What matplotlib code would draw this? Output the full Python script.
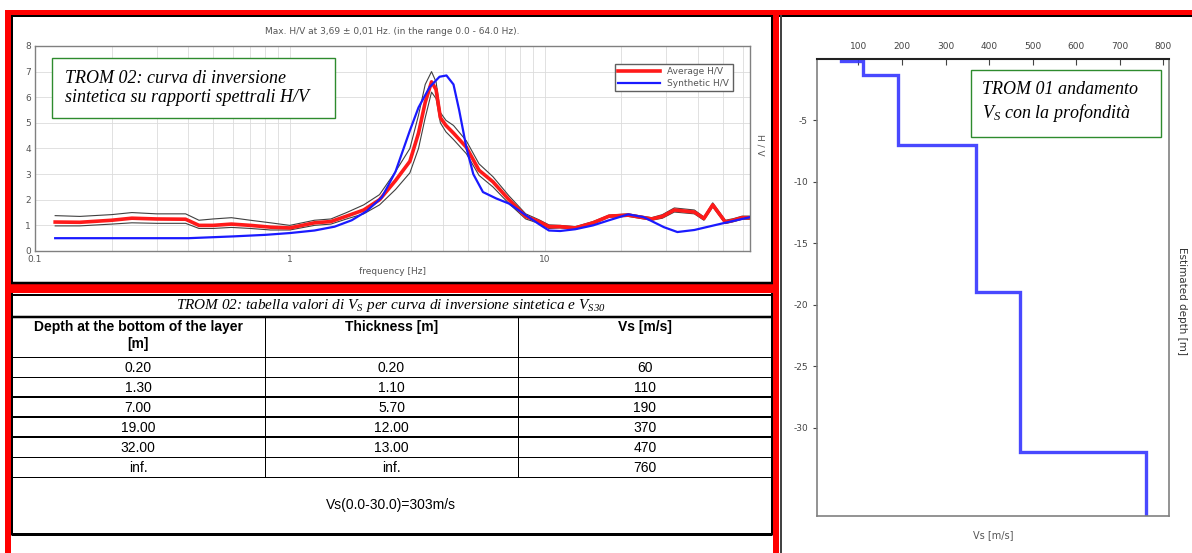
import numpy as np
import matplotlib.pyplot as plt
from matplotlib.patches import Rectangle

plt.rcParams['mathtext.fontset'] = 'custom'
plt.rcParams['mathtext.it'] = 'Liberation Serif:italic'
plt.rcParams['mathtext.rm'] = 'Liberation Serif:italic'
plt.rcParams['axes.unicode_minus'] = False

# --- H/V curves ---
freq = [0.12, 0.15, 0.2, 0.24, 0.3, 0.39, 0.44, 0.5, 0.59, 0.7, 0.84, 1.0, 1.25, 1.45,
        1.67, 1.95, 2.25, 2.6, 2.96, 3.2, 3.4, 3.6, 3.75, 3.9, 4.1, 4.39, 4.93, 5.53,
        6.27, 7.25, 8.43, 9.5, 10.4, 11.5, 13.2, 15.5, 17.9, 21.3, 26.3, 29.0, 32.3,
        38.7, 42.2, 45.7, 51.2, 55.0, 59.6, 64.0]
hv_avg = [1.13, 1.12, 1.2, 1.28, 1.25, 1.24, 1.0, 1.0, 1.05, 1.0, 0.93, 0.9, 1.1, 1.15,
          1.36, 1.6, 2.0, 2.75, 3.5, 4.6, 5.8, 6.6, 6.3, 5.2, 4.9, 4.6, 4.05, 3.15,
          2.7, 2.0, 1.35, 1.15, 0.95, 0.95, 0.9, 1.1, 1.36, 1.4, 1.25, 1.35, 1.6,
          1.52, 1.27, 1.8, 1.13, 1.2, 1.3, 1.3]
hv_up = [1.38, 1.35, 1.42, 1.5, 1.45, 1.45, 1.2, 1.25, 1.3, 1.2, 1.1, 1.0, 1.2, 1.25,
         1.5, 1.8, 2.2, 3.1, 4.0, 5.3, 6.5, 7.0, 6.6, 5.4, 5.1, 4.9, 4.3, 3.4,
         2.9, 2.15, 1.45, 1.22, 1.02, 1.0, 0.95, 1.15, 1.4, 1.45, 1.3, 1.42, 1.68,
         1.6, 1.33, 1.88, 1.2, 1.26, 1.36, 1.36]
hv_low = [0.98, 0.98, 1.05, 1.1, 1.08, 1.08, 0.88, 0.88, 0.92, 0.88, 0.82, 0.82, 1.0, 1.05,
          1.25, 1.45, 1.8, 2.4, 3.05, 4.0, 5.2, 6.2, 5.95, 5.0, 4.65, 4.35, 3.8, 2.95,
          2.5, 1.85, 1.25, 1.08, 0.88, 0.9, 0.85, 1.05, 1.32, 1.35, 1.2, 1.28, 1.52,
          1.45, 1.2, 1.72, 1.07, 1.14, 1.24, 1.24]
freq_syn = [0.12, 0.4, 0.6, 0.8, 1.0, 1.25, 1.5, 1.75, 2.0, 2.3, 2.6, 2.96, 3.2, 3.54,
            3.87, 4.12, 4.39, 4.62, 4.93, 5.25, 5.73, 6.46, 7.25, 8.43, 9.5, 10.4, 11.5,
            13.2, 15.5, 17.9, 21.3, 24.5, 29.4, 33.2, 38.7, 50.0, 64.0]
hv_syn = [0.5, 0.5, 0.57, 0.63, 0.7, 0.8, 0.95, 1.2, 1.55, 2.1, 3.1, 4.7, 5.6, 6.4,
          6.8, 6.85, 6.5, 5.5, 4.05, 3.0, 2.3, 2.05, 1.85, 1.4, 1.05, 0.8, 0.78,
          0.85, 1.0, 1.2, 1.43, 1.32, 0.93, 0.74, 0.82, 1.08, 1.32]

# --- layer table / Vs profile ---
layer_bottom = [0.20, 1.30, 7.00, 19.00, 32.00, np.inf]
thickness = [0.20, 1.10, 5.70, 12.00, 13.00, np.inf]
vs = [60, 110, 190, 370, 470, 760]
vs30_text = "Vs(0.0-30.0)=303m/s"
header = ["Depth at the bottom of the layer\n[m]", "Thickness [m]", "Vs [m/s]"]

W, H = 1192, 553
fig = plt.figure(figsize=(W / 100, H / 100), dpi=100, facecolor='white')


def px_axes(x0, y0, x1, y1):
    return fig.add_axes([x0 / W, 1 - y1 / H, (x1 - x0) / W, (y1 - y0) / H])


# background overlay in pixel coordinates
bg = fig.add_axes([0, 0, 1, 1])
bg.set_xlim(0, W)
bg.set_ylim(H, 0)
bg.axis('off')


def fill(x0, y0, x1, y1, color):
    bg.add_patch(Rectangle((x0, y0), x1 - x0, y1 - y0, facecolor=color, edgecolor='none'))


def hline(y, x0, x1, lw=1, color='black'):
    bg.plot([x0, x1], [y, y], color=color, lw=lw * 0.72, solid_capstyle='butt')


def vline(x, y0, y1, lw=1, color='black'):
    bg.plot([x, x], [y0, y1], color=color, lw=lw * 0.72, solid_capstyle='butt')


# red frames
fill(5, 10, W, 14.5, 'red')
fill(5, 10, 10.5, H, 'red')
fill(773, 10, 779, H, 'red')
fill(5, 284, 779, 293, 'red')
# black inner frames
hline(15.5, 10.5, 773, 2)
vline(11.5, 14.5, 284, 2)
vline(772, 14.5, 284, 2)
hline(282.5, 10.5, 773, 2.5)
hline(16, 779, W, 2)
vline(780.5, 14.5, H, 2, '#444444')

# --- table ---
tx = [11, 265, 518, 772]
hline(295, 11, 772, 2)
vline(11.5, 293, 535, 2)
vline(771.5, 293, 535, 2)
bg.text(391, 306, "TROM 02: tabella valori di V$_{S}$ per curva di inversione sintetica e V$_{S30}$",
        ha='center', va='center', fontsize=11, family='Liberation Serif', style='italic')
hline(317, 11, 772, 2.5)
row_y = [357, 377, 397, 417, 437, 457, 477]
row_lw = [1, 1, 2, 2, 2, 1, 1]
for y, lw in zip(row_y, row_lw):
    hline(y, 11, 772, lw)
for x in tx[1:3]:
    vline(x, 317, 477, 1)
centers = [(tx[i] + tx[i + 1]) / 2 for i in range(3)]
for c, h in zip(centers, header):
    bg.text(c, 320, h, ha='center', va='top', fontsize=10, weight='bold',
            family='Liberation Sans', linespacing=1.3)


def fmt(v):
    return "inf." if np.isinf(v) else f"{v:.2f}"


for i in range(len(vs)):
    yc = (row_y[i] + row_y[i + 1]) / 2 + 0.5
    for c, s in zip(centers, [fmt(layer_bottom[i]), fmt(thickness[i]), str(vs[i])]):
        bg.text(c, yc, s, ha='center', va='center', fontsize=10, family='Liberation Sans')
bg.text(391, 505, vs30_text, ha='center', va='center', fontsize=10, family='Liberation Sans')
hline(534, 11, 772, 3)

# --- H/V chart ---
grey = '#808080'
ax = px_axes(35, 46, 750, 251)
ax.set_xscale('log')
ax.set_xlim(0.1, 64)
ax.set_ylim(0, 8)
ax.grid(True, which='both', color='#dcdcdc', lw=0.6)
ax.set_yticks(range(0, 9))
ax.plot(freq, hv_up, color='#404040', lw=0.8, zorder=2)
ax.plot(freq, hv_low, color='#404040', lw=0.8, zorder=2)
ax.plot(freq, hv_avg, color='#ff1a1a', lw=2.6, label='Average H/V', zorder=3)
ax.plot(freq_syn, hv_syn, color='#1a1aff', lw=1.6, label='Synthetic H/V', zorder=4)
ax.set_xticks([0.1, 1, 10])
ax.set_xticklabels(['0.1', '1', '10'])
ax.tick_params(which='both', length=0, labelsize=6.5, labelcolor='#555555', pad=3)
for s in ax.spines.values():
    s.set_color(grey)
    s.set_linewidth(1)
ax.set_xlabel('frequency [Hz]', fontsize=6.5, color='#555555', labelpad=2)
ax.text(1.008, 0.52, 'H / V', transform=ax.transAxes, rotation=-90, fontsize=6.5,
        color='#555555', ha='left', va='center')
ax.set_title('Max. H/V at 3,69 ± 0,01 Hz. (in the range 0.0 - 64.0 Hz).', fontsize=6.5,
             color='#555555', pad=9)
leg = ax.legend(loc='upper right', bbox_to_anchor=(0.982, 0.935), fontsize=6.5, frameon=True,
                fancybox=False, edgecolor='#606060', framealpha=1, handlelength=4.6,
                borderpad=0.4, labelspacing=0.25)
for t in leg.get_texts():
    t.set_color('#555555')
ax.add_patch(Rectangle((0.024, 0.65), 0.396, 0.29, transform=ax.transAxes,
                       facecolor='white', edgecolor='#2e8b2e', lw=1, zorder=5))
ax.text(0.042, 0.795, 'TROM 02: curva di inversione\nsintetica su rapporti spettrali H/V',
        transform=ax.transAxes, fontsize=13, family='Liberation Serif', style='italic',
        ha='left', va='center', linespacing=1.15, zorder=6)

# --- Vs profile ---
ax2 = px_axes(817, 59, 1169, 516)
ax2.set_xlim(5, 813)
ax2.set_ylim(-37.2, 0)
px, py = [], []
top = 0.0
for v, b in zip(vs, layer_bottom):
    bot = min(b, 37.2)
    px += [v, v]
    py += [-top, -bot]
    top = bot
ax2.plot(px, py, color='#3535ff', lw=2.4, alpha=0.9, solid_joinstyle='miter')
ax2.xaxis.tick_top()
ax2.set_xticks(range(100, 900, 100))
ax2.set_yticks([-5, -10, -15, -20, -25, -30])
ax2.tick_params(axis='x', direction='in', length=4, labelsize=6.5, labelcolor='#444444',
                color='#444444', pad=6)
ax2.tick_params(axis='y', direction='out', length=3, labelsize=6.5, labelcolor='#444444',
                color='#444444')
for s in ax2.spines.values():
    s.set_color(grey)
    s.set_linewidth(1.2)
ax2.spines['top'].set_color('#222222')
ax2.spines['top'].set_linewidth(1.5)
ax2.set_xlabel('Vs [m/s]', fontsize=7, color='#555555', labelpad=10)
ax2.text(1.022, 0.47, 'Estimated depth [m]', transform=ax2.transAxes, rotation=-90,
         fontsize=7.5, color='#333333', ha='left', va='center')
ax2.add_patch(Rectangle((0.438, 0.829), 0.54, 0.147, transform=ax2.transAxes,
                        facecolor='white', edgecolor='#2e8b2e', lw=1, zorder=5))
ax2.text(0.47, 0.905, 'TROM 01 andamento\nV$_{S}$ con la profondità', transform=ax2.transAxes,
         fontsize=13, family='Liberation Serif', style='italic', ha='left', va='center',
         linespacing=1.25, zorder=6)

fig.savefig('out.png', dpi=100, facecolor='white')
